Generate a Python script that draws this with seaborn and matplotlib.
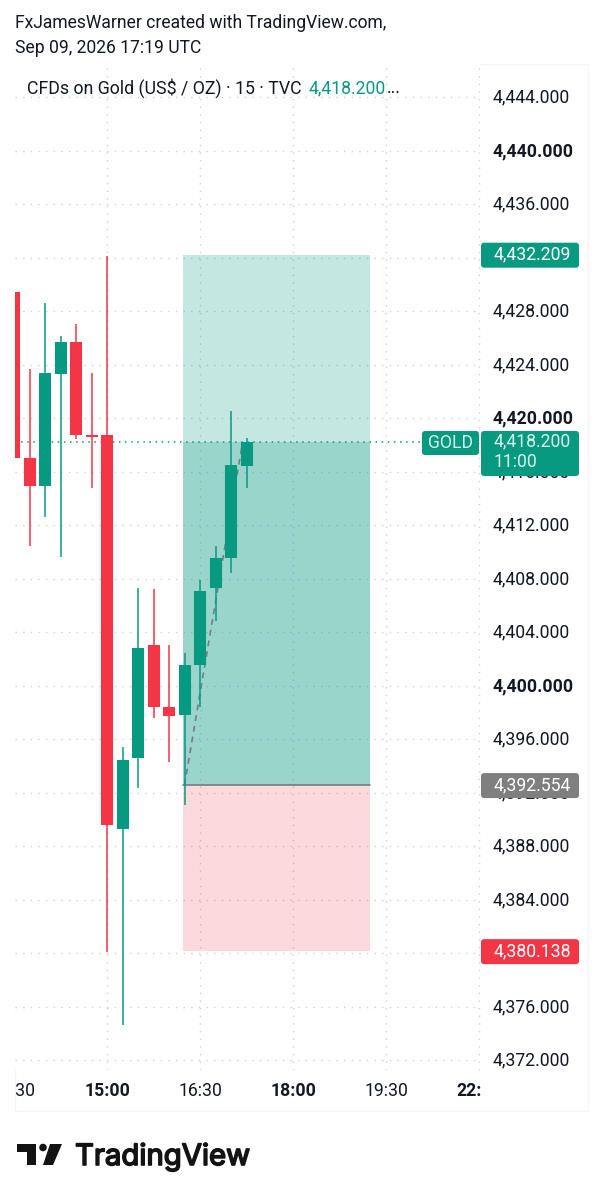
import matplotlib
matplotlib.use('Agg')
import matplotlib.pyplot as plt
from matplotlib.patches import FancyBboxPatch, Polygon, Circle, Rectangle
from matplotlib.transforms import Bbox, ScaledTranslation
import matplotlib.patheffects as pe
import pandas as pd
import seaborn as sns

# candle data, bar number counted from the 15:00 candle
bars = [-6, -5, -4, -3, -2, -1, 0, 1, 2, 3, 4, 5, 6, 7, 8, 9]
opens = [4429.4, 4417.0, 4414.9, 4423.3, 4425.7, 4418.7, 4418.7, 4389.3,
         4394.6, 4403.0, 4398.4, 4397.8, 4401.5, 4407.3, 4409.5, 4416.4]
highs = [4429.4, 4423.7, 4428.6, 4426.1, 4427.0, 4423.4, 4432.1, 4395.4,
         4407.3, 4407.2, 4403.0, 4402.4, 4407.9, 4410.4, 4420.5, 4418.5]
lows = [4417.0, 4410.4, 4412.6, 4409.6, 4418.4, 4414.8, 4380.1, 4374.6,
        4392.3, 4397.6, 4394.3, 4391.1, 4398.4, 4404.8, 4408.4, 4414.8]
closes = [4417.0, 4414.9, 4423.4, 4425.7, 4418.7, 4418.6, 4389.6, 4394.4,
          4402.8, 4398.4, 4397.7, 4401.5, 4407.1, 4409.5, 4416.5, 4418.2]

price_ticks = [4372, 4376, 4380, 4384, 4388, 4392, 4396, 4400, 4404, 4408, 4412,
               4416, 4420, 4424, 4428, 4432, 4436, 4440, 4444]
bold_prices = [4400, 4420, 4440]
time_bars = [-6, 0, 6, 12, 18, 24]
time_labels = ['13:30', '15:00', '16:30', '18:00', '19:30', '22:30']
bold_times = ['15:00', '18:00', '22:30']

target_price = 4432.209
entry_price = 4392.554
stop_price = 4380.138
last_price = 4418.2

GREEN = '#089981'
RED = '#F23645'
GRID = '#CDD0D6'
TEXT = '#131722'
FS = 12.7

W, H = 601, 1200
sns.set_style('white')
plt.rcParams['font.family'] = ['Roboto', 'DejaVu Sans']

fig = plt.figure(figsize=(W / 100, H / 100), dpi=100, facecolor='white')

# plot area in pixels of the picture
left, right, top, bottom = 15, 480, 64, 1070
ax = fig.add_axes([left / W, 1 - bottom / H, (right - left) / W, (bottom - top) / H])


def price_y(p):
    return 97 + (4444 - p) * 13.375


def bar_x(px):
    return (px - 107) / 15.5


ax.set_xlim(bar_x(left), bar_x(right))
ax.set_ylim(4444 - (bottom - 97) / 13.375, 4444 + (97 - top) / 13.375)
ax.set_facecolor('white')
for s in ax.spines.values():
    s.set_visible(False)

ax.set_axisbelow(True)
ax.set_xticks(time_bars[1:-1])
ax.set_xticklabels([])
ax.set_yticks(price_ticks)
ax.yaxis.tick_right()
ax.set_yticklabels([f'{p:,.3f}' for p in price_ticks], fontsize=FS, color=TEXT)
ax.tick_params(axis='y', length=0, pad=9)
ax.tick_params(axis='x', length=0)
# the scale labels sit a little higher than matplotlib centres them
nudge = ScaledTranslation(0, 1.5 / 100, fig.dpi_scale_trans)
for lab, p in zip(ax.get_yticklabels(), price_ticks):
    lab.set_transform(lab.get_transform() + nudge)
    if p in bold_prices:
        lab.set_fontweight('bold')
ax.grid(True, color=GRID, linewidth=1, linestyle=(0, (1, 4.5)))
ax.axvline(24, color=GRID, linewidth=1, linestyle=(0, (1, 4.5)), clip_on=False, zorder=0)

# long position box
box_x = [bar_x(183), bar_x(370)]
ax.fill_between(box_x, entry_price, target_price, color=GREEN, alpha=0.235, linewidth=0, zorder=1)
ax.fill_between(box_x, entry_price, last_price, color=GREEN, alpha=0.22, linewidth=0, zorder=1)
ax.fill_between(box_x, stop_price, entry_price, color=RED, alpha=0.19, linewidth=0, zorder=1)
ax.plot(box_x, [entry_price, entry_price], color='#787B86', linewidth=1.2, zorder=1.2)

# dashed path inside the box
path = pd.DataFrame({'bar': [5.0, 8.75], 'price': [entry_price, last_price]})
sns.lineplot(data=path, x='bar', y='price', color='#787B86', linewidth=1.2,
             linestyle=(0, (3.5, 3)), ax=ax, zorder=1.5, legend=False)

ax.plot([bar_x(left), bar_x(422)], [last_price, last_price], color=GREEN, linewidth=1.1,
        linestyle=(0, (1, 3)), zorder=1.6)

# candles: a long table with wick and body ends, one line per candle
candles = pd.DataFrame({'bar': bars, 'open': opens, 'high': highs, 'low': lows, 'close': closes})
candles['dir'] = ['up' if c >= o else 'down' for o, c in zip(opens, closes)]
palette = {'up': GREEN, 'down': RED}
wicks = candles.melt(id_vars=['bar', 'dir'], value_vars=['low', 'high'], value_name='price')
bodies = candles.melt(id_vars=['bar', 'dir'], value_vars=['open', 'close'], value_name='price')
sns.lineplot(data=wicks, x='bar', y='price', hue='dir', palette=palette, units='bar',
             estimator=None, sort=False, linewidth=1.1, solid_capstyle='butt',
             ax=ax, legend=False, zorder=2)
sns.lineplot(data=bodies, x='bar', y='price', hue='dir', palette=palette, units='bar',
             estimator=None, sort=False, linewidth=8.7, solid_capstyle='butt',
             ax=ax, legend=False, zorder=2.1)
ax.set_xlabel('')
ax.set_ylabel('')

# time labels, the outer two are cut off by the chart edge
time_clip = Bbox([[left, 0], [right + 1, H]])
for b, lab in zip(time_bars, time_labels):
    t = ax.text(b, 1 - (1091 - top) / (bottom - top), lab, transform=ax.get_xaxis_transform(),
                ha='center', va='center', fontsize=FS, color=TEXT,
                fontweight='bold' if lab in bold_times else 'normal', clip_on=True)
    t.set_clip_box(time_clip)


def add_label(x0, x1, y0, y1, color, zorder=6):
    box = FancyBboxPatch((x0 + 3, H - y1 + 3), x1 - x0 - 6, y1 - y0 - 6, boxstyle='round,pad=3,rounding_size=3',
                         transform=None, facecolor=color, edgecolor='none', clip_on=False, zorder=zorder)
    ax.add_patch(box)


def fig_text(x, y, s, **kw):
    return fig.text(x / W, 1 - y / H, s, **kw)


# price flags on the scale
for p, col in [(target_price, GREEN), (entry_price, '#7F7F7F'), (stop_price, RED)]:
    y = price_y(p)
    add_label(481, 579, y - 12, y + 13, col)
    ax.text(493.5 / W, 1 - y / H, f'{p:,.3f}', transform=fig.transFigure, va='center', ha='left',
            fontsize=FS, color='white', zorder=7, clip_on=False)

add_label(422, 479, 431, 455, GREEN)
add_label(481, 579, 431, 476, GREEN)
ax.text(450.5 / W, 1 - 443.5 / H, 'GOLD', transform=fig.transFigure, va='center', ha='center',
        fontsize=FS, color='#D6F2EC', zorder=7, clip_on=False)
ax.text(493.5 / W, 1 - 441.5 / H, f'{last_price:,.3f}', transform=fig.transFigure, va='center', ha='left',
        fontsize=FS, color='#D6F2EC', zorder=7, clip_on=False)
ax.text(493.5 / W, 1 - 462 / H, '11:00', transform=fig.transFigure, va='center', ha='left',
        fontsize=FS, color='#D6F2EC', zorder=7, clip_on=False)

# chart frame
fig.add_artist(Rectangle((15 / W, 1 - 1111 / H), 573 / W, 1047 / H, transform=fig.transFigure,
                         facecolor='none', edgecolor='#F4F5F7', linewidth=1, zorder=0))

# header and legend
fig_text(15, 23, 'FxJamesWarner created with TradingView.com,', fontsize=12.65, color=TEXT, va='center')
fig_text(15, 48, 'Sep 09, 2026 17:19 UTC', fontsize=12.65, color=TEXT, va='center')
fig_text(27, 88, 'CFDs on Gold (US$ / OZ) · 15 · TVC', fontsize=12.75, color=TEXT, va='center')
fig_text(309, 88, '4,418.200', fontsize=FS, color=GREEN, va='center')
fig_text(387, 88, '...', fontsize=FS, color=TEXT, va='center')

# TradingView logo
logo = '#131313'
to_fig = lambda pts: [(x / W, 1 - y / H) for x, y in pts]
fig.add_artist(Polygon(to_fig([(17, 1144), (36, 1144), (36, 1165), (27, 1165), (27, 1152), (17, 1152)]),
                       closed=True, transform=fig.transFigure, facecolor=logo, edgecolor='none'))
fig.add_artist(Polygon(to_fig([(50, 1144), (62, 1144), (53, 1165), (43, 1165)]),
                       closed=True, transform=fig.transFigure, facecolor=logo, edgecolor='none'))
fig.add_artist(Circle((43, H - 1147.5), 3.8, transform=None, facecolor=logo, edgecolor='none'))
word = fig_text(75, 1165, 'TradingView', fontsize=21.1, color=logo, va='baseline',
                family=['Inter', 'DejaVu Sans'])
word.set_path_effects([pe.withStroke(linewidth=1.2, foreground=logo)])

fig.savefig('out.png', dpi=100, facecolor='white')
plt.close(fig)
